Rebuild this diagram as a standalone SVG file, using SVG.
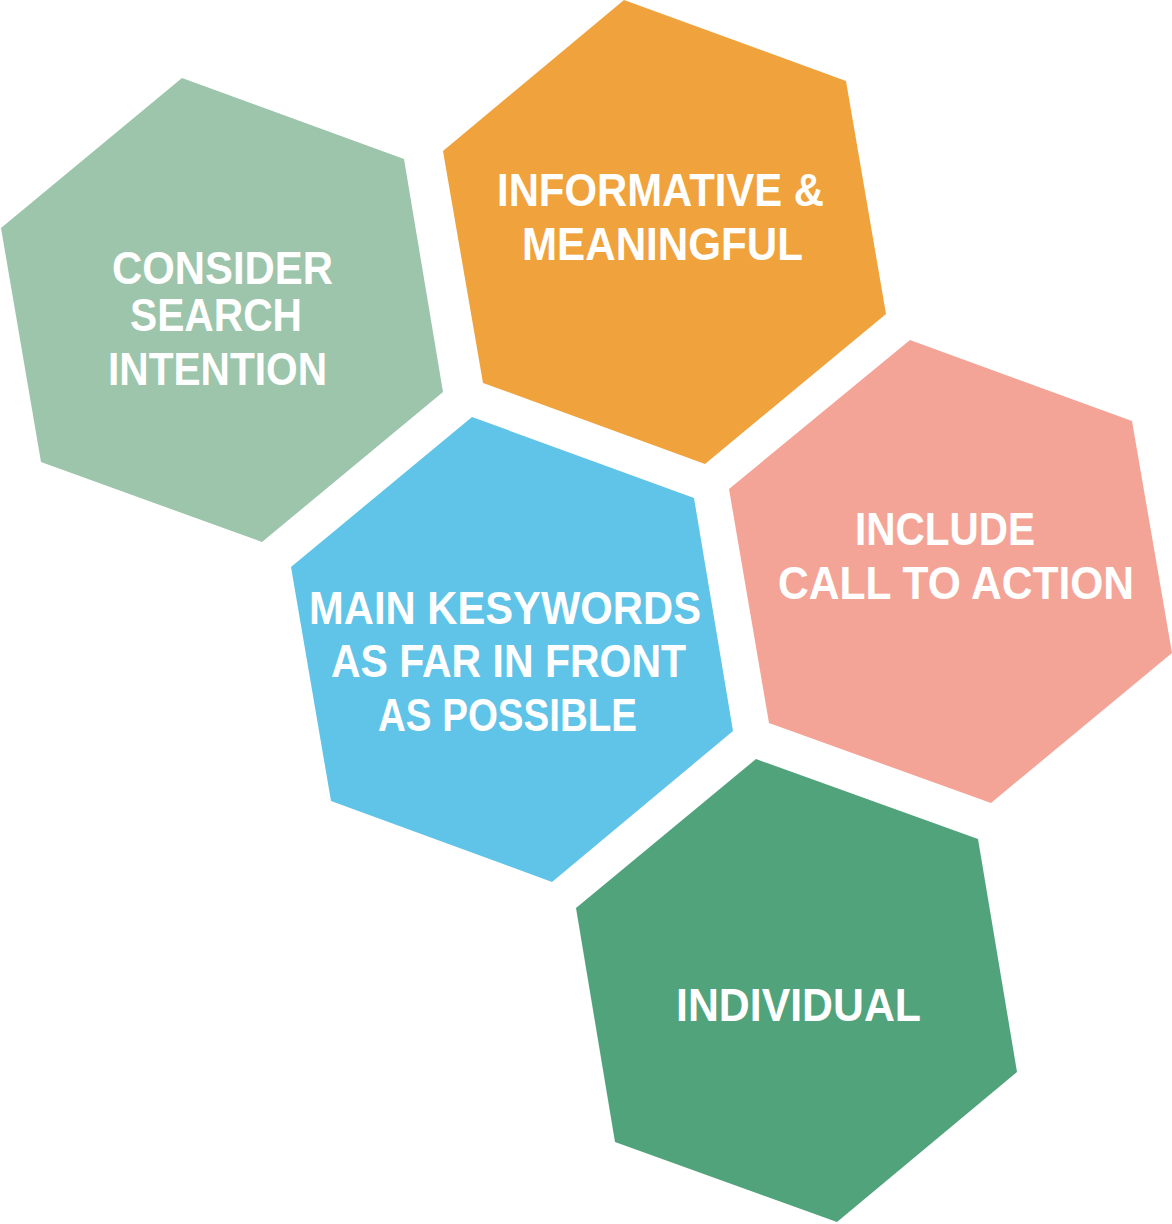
<svg xmlns="http://www.w3.org/2000/svg" width="1172" height="1224" viewBox="0 0 1172 1224">
<style>
.lbl{font-family:"Liberation Sans",Arial,sans-serif;font-weight:bold;font-size:46px;fill:#ffffff;text-anchor:middle}
</style>
<rect width="1172" height="1224" fill="#ffffff"/>
<g id="connectors"></g>
<g id="node-consider">
<polygon points="182,78 404,159 443,392 262,542 41,462 1,228" fill="#9CC5AB"/>
<text class="lbl" x="222.5" y="284" textLength="221" lengthAdjust="spacingAndGlyphs">CONSIDER</text>
<text class="lbl" x="216" y="331" textLength="172" lengthAdjust="spacingAndGlyphs">SEARCH</text>
<text class="lbl" x="217.5" y="385" textLength="219" lengthAdjust="spacingAndGlyphs">INTENTION</text>
</g>
<g id="node-informative">
<polygon points="624,0 846,81 886,314 705,464 483,383 443,151" fill="#F0A23C"/>
<text class="lbl" x="660.5" y="206" textLength="327" lengthAdjust="spacingAndGlyphs">INFORMATIVE &amp;</text>
<text class="lbl" x="662.5" y="260" textLength="281" lengthAdjust="spacingAndGlyphs">MEANINGFUL</text>
</g>
<g id="node-include">
<polygon points="910,340 1132,421 1172,653 991,803 769,723 729,489" fill="#F4A497"/>
<text class="lbl" x="945" y="545" textLength="180" lengthAdjust="spacingAndGlyphs">INCLUDE</text>
<text class="lbl" x="956" y="599" textLength="356" lengthAdjust="spacingAndGlyphs">CALL TO ACTION</text>
</g>
<g id="node-keywords">
<polygon points="472,417 694,498 733,731 552,882 331,801 291,567" fill="#5FC4E8"/>
<text class="lbl" x="505" y="624" textLength="392" lengthAdjust="spacingAndGlyphs">MAIN KESYWORDS</text>
<text class="lbl" x="508.5" y="677" textLength="355" lengthAdjust="spacingAndGlyphs">AS FAR IN FRONT</text>
<text class="lbl" x="507.5" y="731" textLength="259" lengthAdjust="spacingAndGlyphs">AS POSSIBLE</text>
</g>
<g id="node-individual">
<polygon points="756,759 978,839 1017,1072 837,1222 615,1142 576,908" fill="#51A37B"/>
<text class="lbl" x="798.5" y="1021" textLength="245" lengthAdjust="spacingAndGlyphs">INDIVIDUAL</text>
</g>
</svg>
